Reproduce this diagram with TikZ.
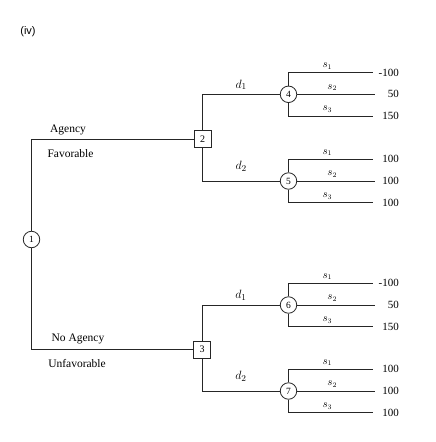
\documentclass[tikz,border=0pt]{standalone}
\usepackage{fontspec}
\setmainfont{Liberation Serif}
\newfontfamily\tagfont{Liberation Sans}
\tikzset{
  wire/.style={draw=black!85, line width=0.8pt},
  chance/.style={shape=circle, draw=black!85, line width=0.8pt, fill=white, inner sep=0, minimum size=16.5pt, font=\fontsize{9.5}{10}\selectfont},
  decision/.style={shape=rectangle, draw=black!85, line width=0.8pt, fill=white, inner sep=0, minimum width=17pt, minimum height=17pt, font=\fontsize{10}{10}\selectfont},
  payoff/.style={anchor=east, inner sep=0, font=\fontsize{11}{11}\selectfont},
  statelbl/.style={inner sep=0, font=\fontsize{10.5}{11}\selectfont},
  actlbl/.style={inner sep=0, font=\fontsize{12.5}{13}\selectfont},
  branchlbl/.style={inner sep=0, font=\fontsize{11.5}{12}\selectfont}
}
\begin{document}
\begin{tikzpicture}[x=1pt, y=-1pt]
        \useasboundingbox (0, 0) rectangle (436, 442);
        \node[inner sep=0, font=\tagfont\fontsize{11}{11}\selectfont](Tag) at (28, 32){(iv)};
        % Nodes:
        \node[chance](C1) at (31.5, 239.5){1};
        \node[decision](D2) at (202.5, 139){2};
        \node[decision](D3) at (202, 349.5){3};
        % Wires from the root:
        \draw[wire] (C1) |- (D2);
        \draw[wire] (C1) |- (D3);
        \node[branchlbl](Agency) at (68, 129.5){Agency};
        \node[branchlbl](Favorable) at (70.5, 153.5){Favorable};
        \node[branchlbl](NoAgency) at (78, 339){No Agency};
        \node[branchlbl](Unfavorable) at (77, 363.5){Unfavorable};
        % Chance nodes, branches and payoffs:
        \foreach \n/\y/\pa/\pb/\pc in {4/94.3/-100/50/150, 5/181/100/100/100, 6/305/-100/50/150, 7/391/100/100/100} {
            \node[chance](C\n) at (288.5, \y){\n};
            \coordinate(E\n a) at (373, \y-21.7);
            \coordinate(E\n b) at (375, \y);
            \coordinate(E\n c) at (373, \y+21.7);
            \draw[wire] (C\n) |- (E\n a) node[statelbl, pos=0.73, above=3pt](S\n a){$s_1$};
            \draw[wire] (C\n) -- (E\n b) node[statelbl, pos=0.45, above=3pt](S\n b){$s_2$};
            \draw[wire] (C\n) |- (E\n c) node[statelbl, pos=0.73, above=3pt](S\n c){$s_3$};
            \node[payoff](P\n a) at (399, \y-21.7){\pa};
            \node[payoff](P\n b) at (399, \y){\pb};
            \node[payoff](P\n c) at (399, \y+21.7){\pc};
        }
        % Decision branches:
        \draw[wire] (D2) |- (C4) node[actlbl, pos=0.75, above=4pt](A21){$d_1$};
        \draw[wire] (D2) |- (C5) node[actlbl, pos=0.75, above=9pt](A22){$d_2$};
        \draw[wire] (D3) |- (C6) node[actlbl, pos=0.75, above=4pt](A31){$d_1$};
        \draw[wire] (D3) |- (C7) node[actlbl, pos=0.75, above=9pt](A32){$d_2$};
        % Redraw node boxes over the wires:
        \node[decision] at (D2){2};
        \node[decision] at (D3){3};
    \end{tikzpicture}
\end{document}
